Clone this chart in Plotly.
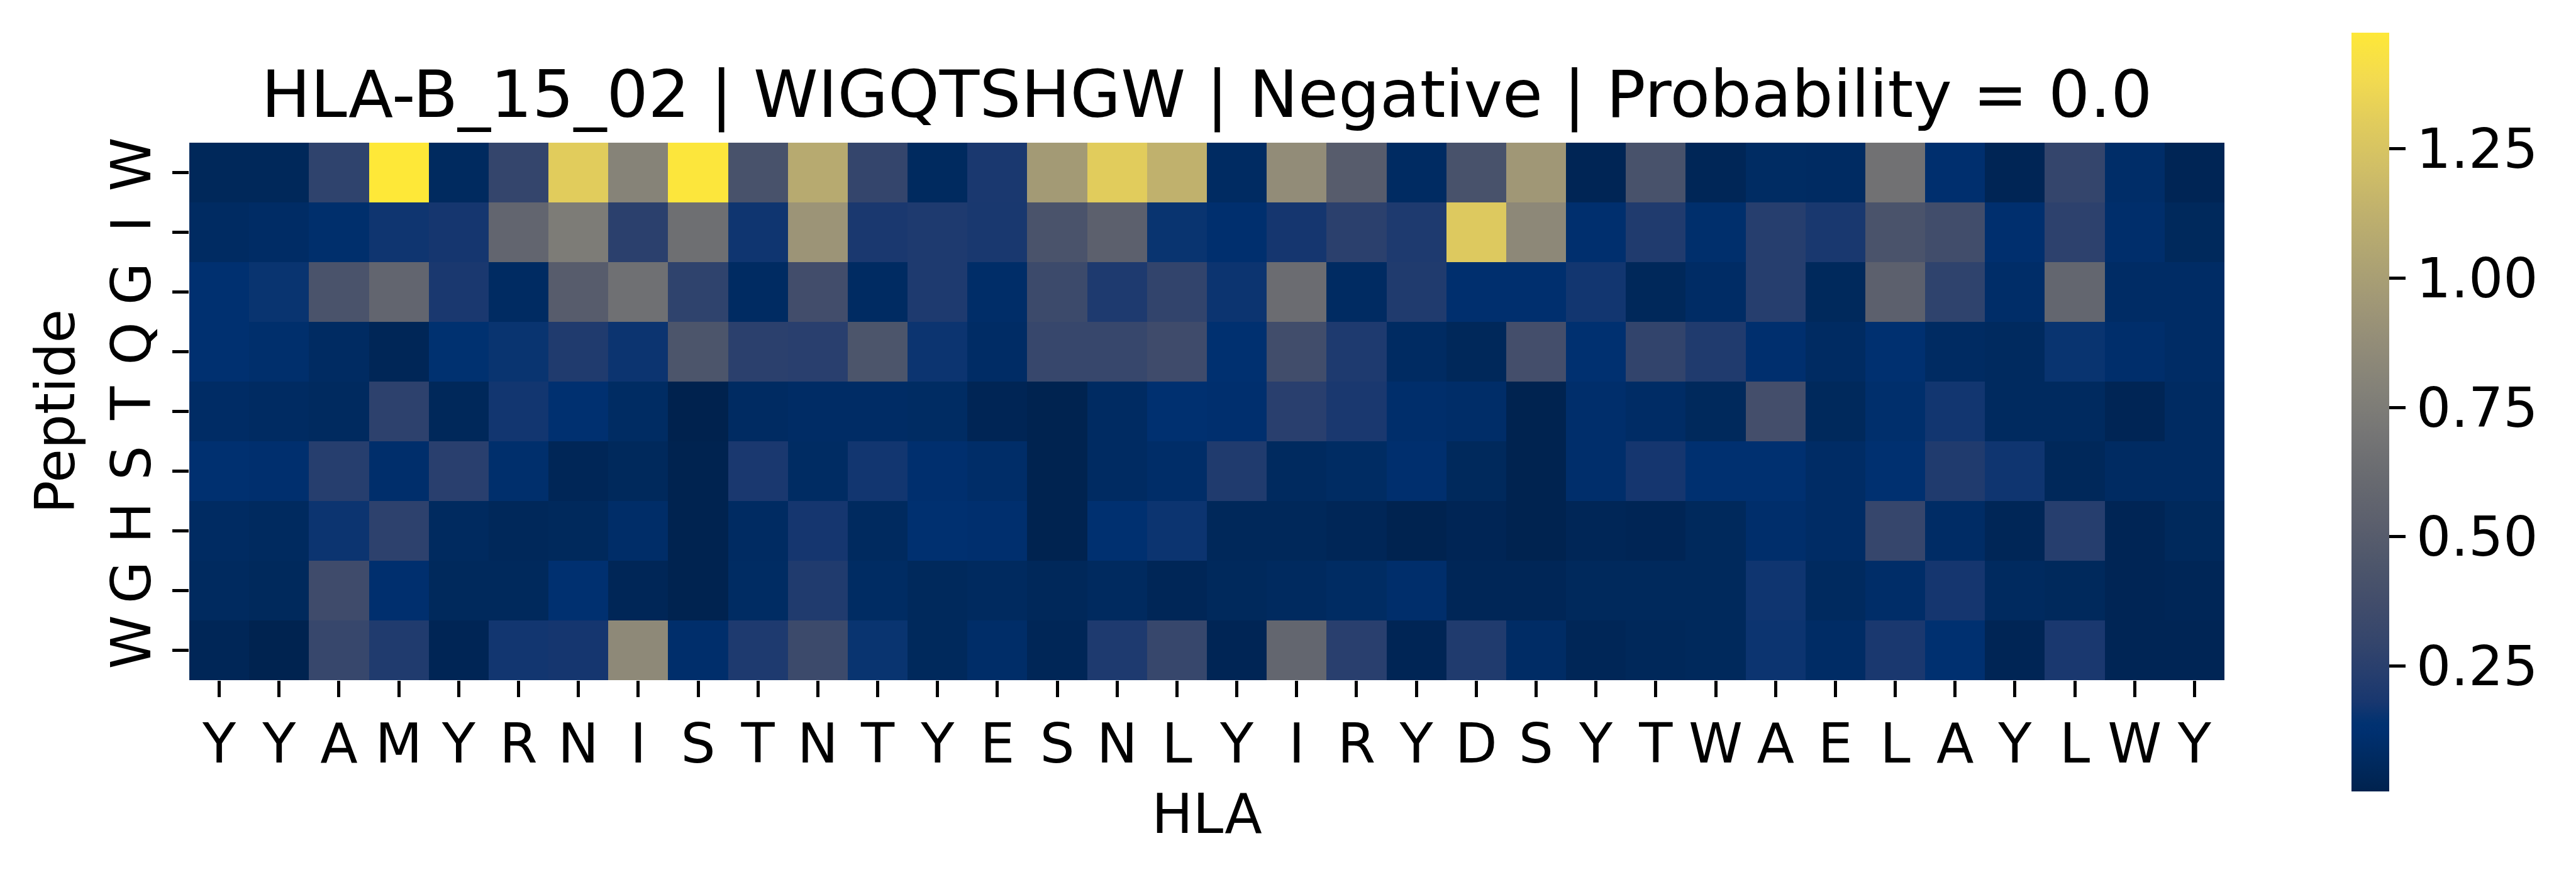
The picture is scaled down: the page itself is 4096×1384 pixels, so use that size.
import plotly.graph_objects as go

hla_labels = list("YYAMYRNISTNTYESNLYIRYDSYTWAELAYLWY")
peptide_labels = list("WIGQTSHGW")

row_W1 = [0.05, 0.05, 0.275, 1.474, 0.065, 0.295, 1.30, 0.80, 1.46, 0.415, 1.08, 0.295,
          0.065, 0.19, 0.97, 1.30, 1.13, 0.075, 0.87, 0.50, 0.075, 0.415, 0.95,
          0.03, 0.415, 0.04, 0.08, 0.075, 0.67, 0.115, 0.03, 0.295, 0.095, 0.03]
row_I = [0.075, 0.085, 0.11, 0.165, 0.175, 0.57, 0.75, 0.255, 0.65, 0.165, 0.93, 0.19,
         0.205, 0.185, 0.425, 0.53, 0.155, 0.115, 0.175, 0.255, 0.205, 1.28, 0.84,
         0.115, 0.21, 0.11, 0.235, 0.185, 0.425, 0.37, 0.115, 0.265, 0.105, 0.055]
row_G1 = [0.125, 0.155, 0.425, 0.57, 0.19, 0.075, 0.50, 0.66, 0.275, 0.075, 0.375, 0.075,
          0.205, 0.095, 0.34, 0.205, 0.285, 0.16, 0.63, 0.075, 0.21, 0.115, 0.115,
          0.17, 0.05, 0.085, 0.235, 0.055, 0.53, 0.275, 0.095, 0.58, 0.085, 0.085]
row_Q = [0.125, 0.11, 0.075, 0.04, 0.13, 0.155, 0.21, 0.16, 0.44, 0.255, 0.245, 0.44,
         0.16, 0.085, 0.315, 0.315, 0.355, 0.125, 0.37, 0.205, 0.075, 0.05, 0.385,
         0.125, 0.285, 0.21, 0.115, 0.075, 0.125, 0.075, 0.065, 0.155, 0.105, 0.085]
row_T = [0.085, 0.075, 0.065, 0.265, 0.05, 0.17, 0.125, 0.08, 0.008, 0.075, 0.085, 0.085,
         0.08, 0.03, 0.015, 0.075, 0.125, 0.115, 0.245, 0.19, 0.105, 0.095, 0.015,
         0.105, 0.085, 0.055, 0.385, 0.055, 0.11, 0.17, 0.065, 0.065, 0.03, 0.075]
row_S = [0.125, 0.115, 0.235, 0.105, 0.245, 0.11, 0.04, 0.055, 0.015, 0.19, 0.08, 0.17,
         0.115, 0.095, 0.015, 0.075, 0.095, 0.21, 0.065, 0.08, 0.115, 0.055, 0.015,
         0.105, 0.175, 0.125, 0.125, 0.085, 0.125, 0.21, 0.165, 0.05, 0.075, 0.075]
row_H = [0.075, 0.065, 0.16, 0.265, 0.065, 0.05, 0.055, 0.095, 0.015, 0.075, 0.175, 0.065,
         0.125, 0.115, 0.015, 0.125, 0.16, 0.05, 0.05, 0.04, 0.015, 0.03, 0.015,
         0.04, 0.03, 0.055, 0.105, 0.085, 0.305, 0.085, 0.04, 0.235, 0.03, 0.055]
row_G2 = [0.065, 0.055, 0.355, 0.115, 0.055, 0.055, 0.125, 0.04, 0.015, 0.08, 0.21, 0.08,
          0.055, 0.065, 0.05, 0.065, 0.04, 0.055, 0.065, 0.08, 0.105, 0.04, 0.04,
          0.055, 0.055, 0.055, 0.165, 0.065, 0.095, 0.175, 0.065, 0.055, 0.03, 0.04]
row_W2 = [0.04, 0.015, 0.315, 0.21, 0.03, 0.17, 0.175, 0.85, 0.105, 0.205, 0.34, 0.155,
          0.055, 0.095, 0.04, 0.205, 0.315, 0.03, 0.58, 0.245, 0.03, 0.21, 0.085,
          0.04, 0.05, 0.055, 0.16, 0.085, 0.19, 0.125, 0.03, 0.19, 0.03, 0.03]

z = [row_W1, row_I, row_G1, row_Q, row_T, row_S, row_H, row_G2, row_W2]
z_min, z_max = 0.008, 1.474

cbar_ticks = [0.25, 0.50, 0.75, 1.00, 1.25]
title_text = "HLA-B_15_02 | WIGQTSHGW | Negative | Probability = 0.0"

# matplotlib-like cividis
cividis = [
    [0.0, "rgb(0,34,78)"],
    [0.0392, "rgb(0,42,95)"],
    [0.0784, "rgb(0,48,112)"],
    [0.0902, "rgb(1,50,113)"],
    [0.1176, "rgb(24,55,111)"],
    [0.1569, "rgb(39,62,110)"],
    [0.1961, "rgb(52,69,108)"],
    [0.25, "rgb(66,77,107)"],
    [0.2941, "rgb(76,85,107)"],
    [0.3529, "rgb(91,95,109)"],
    [0.4118, "rgb(104,106,112)"],
    [0.4706, "rgb(117,117,117)"],
    [0.5294, "rgb(131,129,120)"],
    [0.5882, "rgb(146,140,120)"],
    [0.6471, "rgb(161,152,118)"],
    [0.7059, "rgb(176,165,114)"],
    [0.7647, "rgb(192,177,109)"],
    [0.8235, "rgb(209,191,102)"],
    [0.8824, "rgb(225,204,92)"],
    [0.9412, "rgb(243,219,79)"],
    [1.0, "rgb(254,232,56)"],
]

FONT = "DejaVu Sans"
W, H = 4096, 1384
L, R, T, B = 301, 559, 227, 302
plot_w = W - L - R
plot_h = H - T - B

fig = go.Figure(go.Heatmap(
    z=z,
    x=list(range(len(hla_labels))),
    y=list(range(len(peptide_labels))),
    zmin=z_min, zmax=z_max,
    colorscale=cividis,
    showscale=True,
    xgap=0, ygap=0,
    colorbar=dict(
        thickness=60,
        lenmode="pixels", len=1207,
        x=(3739 - L) / plot_w, xanchor="left", xpad=0,
        y=(T + plot_h - 655.5) / plot_h, yanchor="middle", ypad=0,
        outlinewidth=0,
        tickvals=cbar_ticks,
        ticktext=[f"{v:.2f}" for v in cbar_ticks],
        ticks="outside", ticklen=26, tickwidth=5, tickcolor="black",
        tickfont=dict(family=FONT, size=87, color="black"),
    ),
))

fig.update_layout(
    width=W, height=H,
    margin=dict(l=L, r=R, t=T, b=B, pad=0),
    paper_bgcolor="white", plot_bgcolor="white",
    font=dict(family=FONT, color="black"),
    title=dict(
        text=title_text,
        x=(L + plot_w / 2) / W,
        xanchor="center",
        y=1 - 150 / H, yanchor="middle",
        yref="container", xref="container",
        font=dict(family=FONT, size=104, color="black"),
    ),
    xaxis=dict(
        tickmode="array",
        tickvals=list(range(len(hla_labels))),
        ticktext=hla_labels,
        range=[-0.5, len(hla_labels) - 0.5],
        ticks="outside", ticklen=26, tickwidth=5, tickcolor="black",
        tickfont=dict(family=FONT, size=87, color="black"),
        tickangle=0,
        showgrid=False, zeroline=False, showline=False,
        title=dict(text="HLA", font=dict(family=FONT, size=87, color="black"), standoff=30),
    ),
    yaxis=dict(
        tickmode="array",
        tickvals=list(range(len(peptide_labels))),
        ticktext=peptide_labels,
        range=[len(peptide_labels) - 0.5, -0.5],
        ticks="outside", ticklen=26, tickwidth=5, tickcolor="black",
        tickfont=dict(family=FONT, size=87, color="black"),
        tickangle=-90,
        showgrid=False, zeroline=False, showline=False,
        title=dict(text="Peptide", font=dict(family=FONT, size=87, color="black"), standoff=10),
    ),
)

fig.write_html("out.html")
